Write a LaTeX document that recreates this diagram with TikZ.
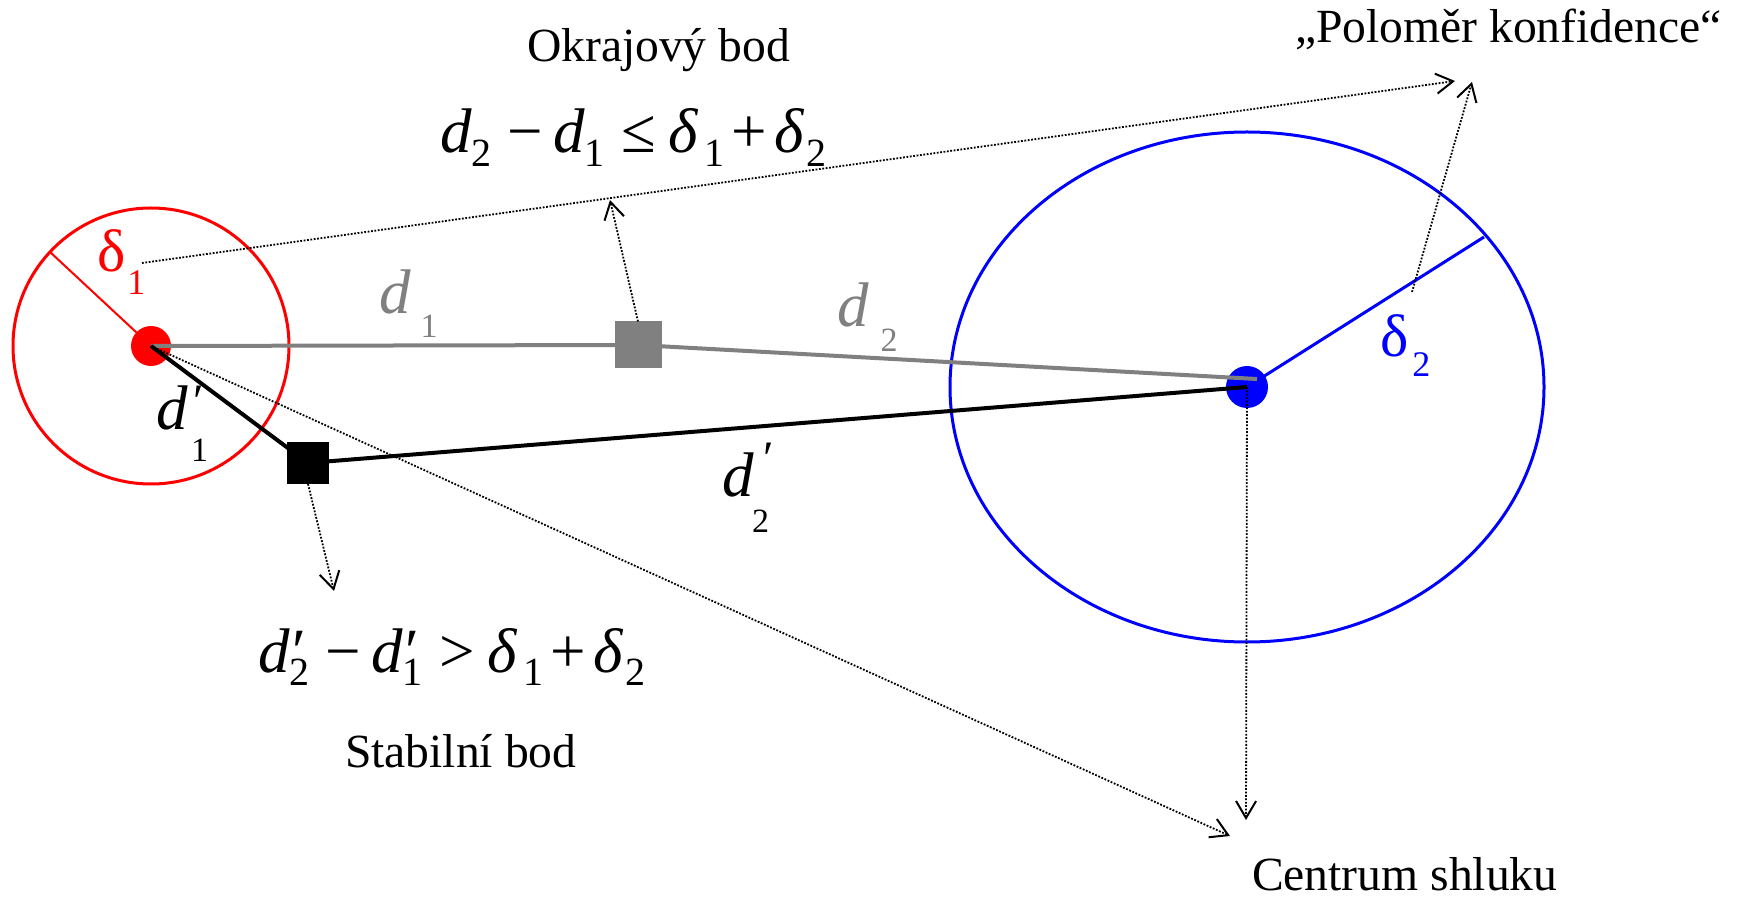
\documentclass[tikz,border=0pt]{standalone}
\usepackage{fontspec}
\setmainfont{Liberation Serif}
\usepackage{graphicx}
\usetikzlibrary{arrows.meta}
\definecolor{dgray}{HTML}{808080}
\newcommand\lblfont{\fontsize{23.8}{28}\selectfont}
\newcommand\mfont{\fontsize{31.5}{36}\selectfont}
\newcommand\msub[1]{\raisebox{-6.7pt}{\fontsize{20}{20}\selectfont #1}}
\newcommand\dsub[2]{\raisebox{-#1}{\fontsize{17}{17}\selectfont #2}}
\newcommand\fpr{\makebox[0pt][l]{\hspace{1.5pt}′}}
\begin{document}
\begin{tikzpicture}[x=0.5pt,y=-0.5pt,
  txt/.style={inner sep=0pt,outer sep=0pt,anchor=base west},
  blob/.style={circle,inner sep=0pt,outer sep=0pt,minimum size=#1},
  boxsq/.style={rectangle,inner sep=0pt,outer sep=0pt,minimum size=#1},
  ptr/.style={draw=black,line width=0.9pt,dash pattern=on 0.9pt off 0.8pt,
    -{Straight Barb[length=8.5pt,width=10pt,line width=1pt]}},
  thick line/.style={line width=2pt},
]
\useasboundingbox (0,0) rectangle (1746,898);

% points
\node[blob=20pt,fill=red] (R) at (151,346) {};
\node[blob=21pt,fill=blue] (B) at (1247,387) {};
\node[boxsq=23.5pt,fill=dgray] (G) at (638,345) {};
\node[boxsq=21pt,fill=black] (K) at (308,463) {};

% confidence circles
\draw[red,line width=1.5pt] (R.center) circle[radius=69pt];
\draw[blue,line width=1.5pt] (B.center) ellipse[x radius=148.5pt,y radius=127.5pt];
\coordinate (r1) at (50,252);
\coordinate (r2) at (1484,237);
\draw[red,line width=1pt] (R.center) -- (r1);
\draw[blue,line width=1.5pt] (B.center) -- (r2);

% distance lines
\coordinate (Bg) at (1257,379);
\draw[dgray,thick line] (R.center) -- (G.center) -- (Bg);
\draw[black,thick line] (R.center) -- (K.center) -- (B.center);

% pointer arrows
\coordinate (s1) at (142,263);
\coordinate (t1) at (1455,81);
\coordinate (s2) at (1412,292);
\coordinate (t2) at (1472,82);
\coordinate (t3) at (610,200);
\coordinate (t4) at (334,591);
\coordinate (t5) at (1230,836);
\coordinate (t6) at (1246,820);
\draw[ptr] (s1) -- (t1);
\draw[ptr] (s2) -- (t2);
\draw[ptr] (G.north) -- (t3);
\draw[ptr] (K.south) -- (t4);
\draw[ptr] (R.center) -- (t5);
\draw[ptr] (B.center) -- (t6);

% labels
\node[txt,font=\lblfont] (okr) at (527,62) {Okrajový bod};
\node[txt,font=\lblfont] (pol) at (1295,43) {„Poloměr konfidence“};
\node[txt,font=\lblfont] (sta) at (345,767) {Stabilní bod};
\node[txt,font=\lblfont] (cen) at (1252,890) {Centrum shluku};

\node[txt,font=\mfont] (f1) at (440,153)
  {\textit{d}\msub{2}\kern8pt −\kern5pt\textit{d}\msub{1}\kern8.5pt ≤\kern6pt\textit{δ}\kern3pt\msub{1}\kern3.7pt +\kern3.7pt\textit{δ}\kern0.7pt\msub{2}};
\node[txt,font=\mfont] (f2) at (258,672)
  {\textit{d}\fpr\msub{2}\kern8pt −\kern5pt\textit{d}\fpr\msub{1}\kern8.5pt >\kern6pt\textit{δ}\kern3pt\msub{1}\kern3.7pt +\kern3.7pt\textit{δ}\kern0.7pt\msub{2}};

\node[txt,text=red,font=\fontsize{30}{34}\selectfont] (dl1) at (97,272)
  {δ\kern1pt\raisebox{-11.5pt}{\fontsize{18}{18}\selectfont 1}};
\node[txt,text=blue,font=\fontsize{30}{34}\selectfont] (dl2) at (1380,357)
  {δ\kern2pt\raisebox{-10pt}{\fontsize{18}{18}\selectfont 2}};

\node[txt,text=dgray,font=\mfont] (ld1) at (379,314) {\textit{d}\kern5pt\dsub{12pt}{1}};
\node[txt,text=dgray,font=\mfont] (ld2) at (837,327) {\textit{d}\kern6pt\dsub{12.5pt}{2}};
\node[txt,font=\mfont] (lp1) at (156,430)
  {\textit{d}\makebox[0pt][l]{\hspace{3pt}\raisebox{6pt}{\fontsize{24}{24}\selectfont ′}}\kern1.75pt\dsub{16pt}{1}};
\node[txt,font=\mfont] (lp2) at (722,497)
  {\textit{d}\makebox[0pt][l]{\hspace{5pt}\raisebox{11.5pt}{\fontsize{24}{24}\selectfont ′}}\kern-0.75pt\dsub{17.5pt}{2}};
\end{tikzpicture}
\end{document}
